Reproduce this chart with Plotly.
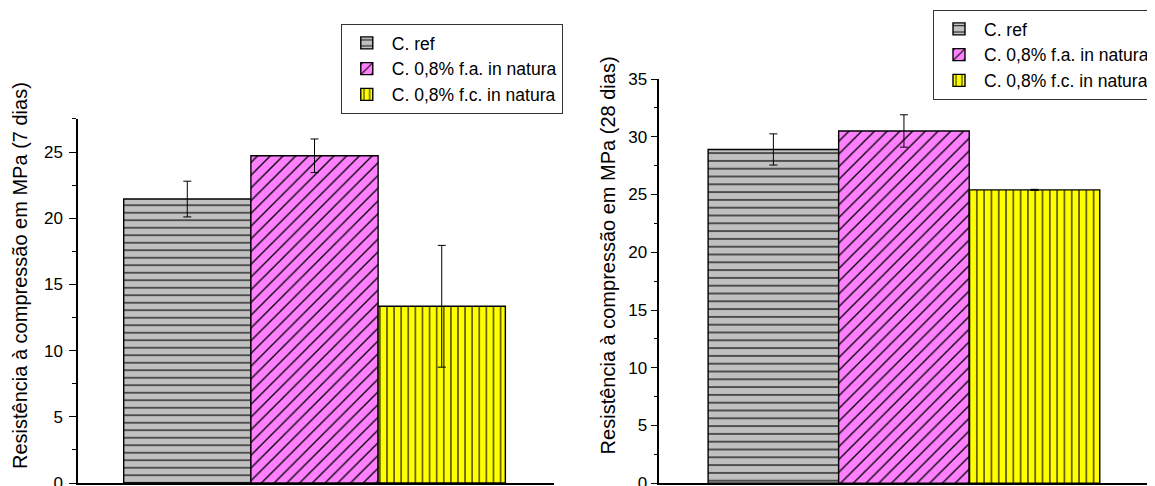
import plotly.graph_objects as go

series = ["C. ref", "C. 0,8% f.a. in natura", "C. 0,8% f.c. in natura"]
values_7d = [21.45, 24.72, 13.35]
errors_7d = [1.35, 1.27, 4.6]
values_28d = [28.9, 30.5, 25.4]
errors_28d = [1.35, 1.4, 0.05]
title_7d = "Resistência à compressão em MPa (7 dias)"
title_28d = "Resistência à compressão em MPa (28 dias)"

colors = ["#c0c0c0", "#ff80ff", "#ffff00"]
shapes = ["-", "/", "|"]
pattern_sizes = [[7.5, 9, 7.1], [7.8, 9, 7.3]]

FONT = "Liberation Sans, Arial, sans-serif"

# page body has an 8px margin; figure runs slightly past the window bottom
W, H = 1147, 490

fig = go.Figure()
for panel, (vals, errs) in enumerate([(values_7d, errors_7d), (values_28d, errors_28d)]):
    xa = "x" if panel == 0 else "x2"
    ya = "y" if panel == 0 else "y2"
    for i, name in enumerate(series):
        fig.add_trace(go.Bar(
            x=[i], y=[vals[i]], width=1, name=name,
            xaxis=xa, yaxis=ya,
            legend="legend" if panel == 0 else "legend2",
            marker=dict(color=colors[i],
                        line=dict(color="black", width=1.4),
                        pattern=dict(shape=shapes[i], fgcolor="black", bgcolor=colors[i],
                                     size=pattern_sizes[panel][i], solidity=0.15, fillmode="replace")),
            error_y=dict(type="data", array=[errs[i]], color="black", thickness=1, width=4),
        ))

axis_common = dict(showline=True, linecolor="black", linewidth=1.5, showgrid=False, zeroline=False)
ytick_common = dict(ticks="outside", ticklen=7, tickwidth=1.2, tickcolor="black", dtick=5,
                    tickfont=dict(size=17),
                    minor=dict(ticks="outside", ticklen=4, dtick=2.5, tickcolor="black", tickwidth=1.2),
                    automargin=False)

fig.update_layout(
    width=W, height=H,
    margin=dict(l=0, r=0, t=0, b=0),
    paper_bgcolor="white", plot_bgcolor="white",
    barmode="overlay",
    font=dict(family=FONT, size=17, color="black"),
    xaxis=dict(domain=[0.0613, 0.4769], range=[-0.858, 2.879], showticklabels=False, ticks="",
               anchor="y", **axis_common),
    yaxis=dict(domain=[0.0306, 0.7735], range=[0, 27.5], anchor="x", ticklabelstandoff=3,
               **ytick_common, **axis_common),
    xaxis2=dict(domain=[0.5693, 1.0], range=[-0.874, 2.9], showticklabels=False, ticks="",
                anchor="y2", **axis_common),
    yaxis2=dict(domain=[0.0300, 0.8551], range=[0, 35], anchor="x2",
                **ytick_common, **axis_common),
    legend=dict(x=0.2909, y=0.9673, xanchor="left", yanchor="top", bordercolor="#333", borderwidth=1,
                bgcolor="white", font=dict(size=17.5), tracegroupgap=0, itemwidth=40),
    legend2=dict(x=0.8088, y=0.9959, xanchor="left", yanchor="top", bordercolor="#333", borderwidth=1,
                 bgcolor="white", font=dict(size=17.5), tracegroupgap=0, itemwidth=40),
    showlegend=True,
    annotations=[
        dict(text=title_7d, textangle=-90, xref="paper", yref="paper", x=0.0105, y=0.4531,
             xanchor="center", yanchor="middle", showarrow=False, font=dict(size=20)),
        dict(text=title_28d, textangle=-90, xref="paper", yref="paper", x=0.5248, y=0.4959,
             xanchor="center", yanchor="middle", showarrow=False, font=dict(size=20)),
    ],
)

fig.write_html("out.html")
